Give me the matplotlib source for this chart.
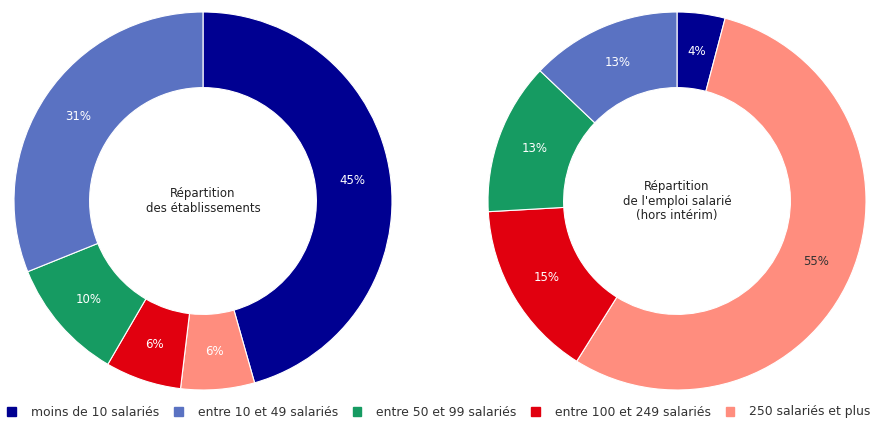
import numpy as np
import matplotlib.pyplot as plt
from matplotlib.patches import Patch

# Categories (legend order)
categories = ["moins de 10 salariés", "entre 10 et 49 salariés", "entre 50 et 99 salariés",
              "entre 100 et 249 salariés", "250 salariés et plus"]
colors = ["#000091", "#5a72c2", "#169b62", "#e1000f", "#ff8d7e"]

# Shares (%)
etablissements = [45.6, 31.1, 10.5, 6.5, 6.3]
emploi = [4.1, 12.9, 13.0, 15.2, 54.8]
labels_etab = ["45%", "31%", "10%", "6%", "6%"]
labels_emploi = ["4%", "13%", "13%", "15%", "55%"]

# Wedges run clockwise from the top in this order
order = [0, 4, 3, 2, 1]

titles = ["Répartition\ndes établissements", "Répartition\nde l'emploi salarié\n(hors intérim)"]
label_colors = {
    0: ["white", "white", "white", "white", "white"],
    1: ["white", "white", "white", "white", "#333333"],
}

fig = plt.figure(figsize=(8.78, 4.21), dpi=100)
ax_left = fig.add_axes([14 / 878, 31 / 421, 378 / 878, 378 / 421])
ax_right = fig.add_axes([488 / 878, 31 / 421, 378 / 878, 378 / 421])

for i, (ax, values, labels) in enumerate([(ax_left, etablissements, labels_etab),
                                          (ax_right, emploi, labels_emploi)]):
    vals = [values[k] for k in order]
    cols = [colors[k] for k in order]
    labs = [labels[k] for k in order]
    lcols = [label_colors[i][k] for k in order]
    wedges, _ = ax.pie(vals, colors=cols, startangle=90, counterclock=False,
                       radius=1.0, wedgeprops=dict(width=0.4, edgecolor="white", linewidth=0.8))
    # percentage labels in the middle of the ring
    for w, lab, lc in zip(wedges, labs, lcols):
        ang = np.deg2rad((w.theta1 + w.theta2) / 2)
        ax.text(0.8 * np.cos(ang), 0.8 * np.sin(ang), lab, ha="center", va="center",
                fontsize=8.5, color=lc)
    ax.text(0, 0, titles[i], ha="center", va="center", fontsize=8.5, color="#222222",
            linespacing=1.15)
    ax.set_xlim(-1, 1)
    ax.set_ylim(-1, 1)
    ax.set_aspect("equal")
    ax.axis("off")

handles = [Patch(facecolor=c, edgecolor=c) for c in colors]
fig.legend(handles, categories, loc="center", bbox_to_anchor=(0.5, 1 - 412 / 421), ncol=5,
           frameon=False, fontsize=8.9, handlelength=0.7, handleheight=0.7,
           columnspacing=1.2, handletextpad=1.2, labelcolor="#333333")

fig.savefig("out.png", dpi=100)
